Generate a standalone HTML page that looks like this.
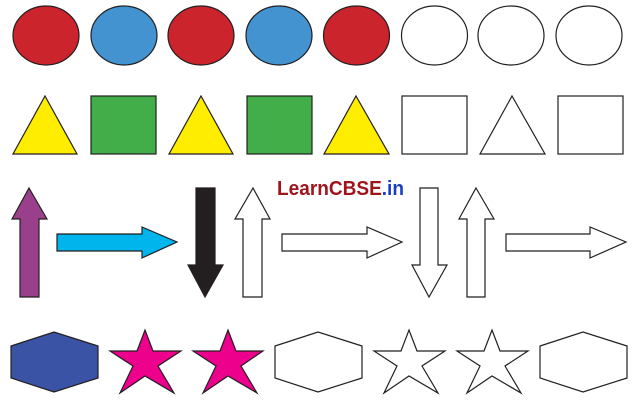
<!DOCTYPE html>
<html><head><meta charset="utf-8"><style>html,body{margin:0;padding:0;background:#fff;}svg{display:block;}</style></head>
<body>
<svg width="635" height="402" viewBox="0 0 635 402" xmlns="http://www.w3.org/2000/svg">
<g stroke="#231f20" stroke-width="1.2">
<ellipse cx="46" cy="35.5" rx="33" ry="29.5" fill="#cb242d"/>
<ellipse cx="124" cy="35.5" rx="33" ry="29.5" fill="#4293d0"/>
<ellipse cx="201" cy="35.5" rx="33" ry="29.5" fill="#cb242d"/>
<ellipse cx="279" cy="35.5" rx="33" ry="29.5" fill="#4293d0"/>
<ellipse cx="356.5" cy="35.5" rx="33" ry="29.5" fill="#cb242d"/>
<ellipse cx="434.5" cy="35.5" rx="33" ry="29.5" fill="#fff"/>
<ellipse cx="511" cy="35.5" rx="33" ry="29.5" fill="#fff"/>
<ellipse cx="589" cy="35.5" rx="33" ry="29.5" fill="#fff"/>

<polygon points="45,96 77,154 13,154" fill="#ffed00"/>
<rect x="91" y="96" width="65" height="58" fill="#41ae4a"/>
<polygon points="201,96 233,154 169,154" fill="#ffed00"/>
<rect x="247" y="96" width="65" height="58" fill="#41ae4a"/>
<polygon points="356,96 389,154 324,154" fill="#ffed00"/>
<rect x="402" y="96" width="65" height="58" fill="#fff"/>
<polygon points="512,96 545,154 480,154" fill="#fff"/>
<rect x="558" y="96" width="65" height="58" fill="#fff"/>

<polygon points="29,188 47,219 39,219 39,297 20,297 20,219 12,219" fill="#9a3f8b"/>
<polygon points="57,234 142,234 142,227 177,242 142,258 142,251 57,251" fill="#00b4ec"/>
<polygon points="196,188 215,188 215,265 223,265 205,297 188,265 196,265" fill="#231f20"/>
<polygon points="253,188 270,219 262,219 262,297 243,297 243,219 235,219" fill="#fff"/>
<polygon points="282,234 367,234 367,227 402,242 367,258 367,251 282,251" fill="#fff"/>
<polygon points="420,188 438,188 438,265 447,265 429,297 412,265 420,265" fill="#fff"/>
<polygon points="476,188 494,219 485,219 485,297 467,297 467,219 459,219" fill="#fff"/>
<polygon points="506,234 590,234 590,227 626,242 590,258 590,251 506,251" fill="#fff"/>

<polygon points="11,346 54,332 98,346 98,378 54,392 11,378" fill="#3a53a4"/>
<polygon points="145,330 153,351 181,351 158,366 174,393 145,376 120,393 133,366 110,351 137,351" fill="#ec008c"/>
<polygon points="228,330 236,351 263,351 241,366 257,393 228,376 203,393 216,366 193,351 220,351" fill="#ec008c"/>
<polygon points="275,346 318,332 362,346 362,378 318,392 275,378" fill="#fff"/>
<polygon points="409,330 417,351 445,351 422,366 438,393 409,376 384,393 397,366 374,351 401,351" fill="#fff"/>
<polygon points="492,330 500,351 528,351 505,366 521,393 492,376 467,393 480,366 457,351 484,351" fill="#fff"/>
<polygon points="540,346 583,332 627,346 627,378 583,392 540,378" fill="#fff"/>
</g>
<text x="277" y="195" font-family="Liberation Sans, sans-serif" font-weight="bold" font-size="20" textLength="127" lengthAdjust="spacingAndGlyphs"><tspan fill="#a0141c">LearnCBSE</tspan><tspan fill="#1b3fc4">.in</tspan></text>
</svg>
</body></html>
